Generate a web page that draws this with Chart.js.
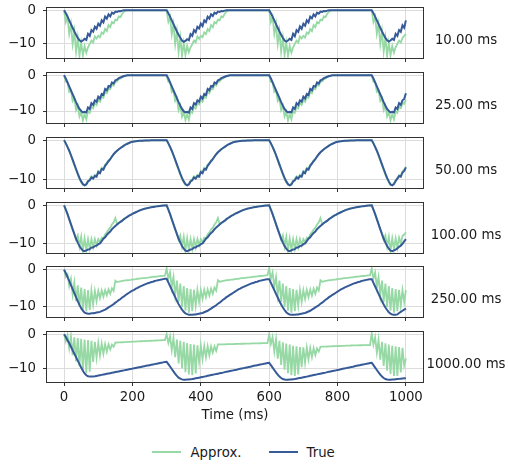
<!DOCTYPE html>
<html><head><meta charset="utf-8">
<script src="https://cdn.jsdelivr.net/npm/chart.js@4.4.1/dist/chart.umd.min.js"></script>
<style>
html,body{margin:0;padding:0;background:#fff;}
body{width:508px;height:467px;position:relative;overflow:hidden;font-family:"DejaVu Sans",sans-serif;}
canvas{position:absolute;left:0;}
.t{position:absolute;font-size:13.3px;line-height:15px;color:#1a1a1a;white-space:nowrap;}
.c{transform:translate(-50%,-50%);}
.l{transform:translateY(-50%);}
.sw{position:absolute;height:2px;width:29px;}
</style></head><body>
<script>
const time = [
0,5,10,15,20,25,30,35,40,45,50,55,60,65,70,75,80,85,90,95,
100,105,110,115,120,125,130,135,140,145,150,155,160,165,170,175,180,185,190,195,
200,205,210,215,220,225,230,235,240,245,250,255,260,265,270,275,280,285,290,295,
300,305,310,315,320,325,330,335,340,345,350,355,360,365,370,375,380,385,390,395,
400,405,410,415,420,425,430,435,440,445,450,455,460,465,470,475,480,485,490,495,
500,505,510,515,520,525,530,535,540,545,550,555,560,565,570,575,580,585,590,595,
600,605,610,615,620,625,630,635,640,645,650,655,660,665,670,675,680,685,690,695,
700,705,710,715,720,725,730,735,740,745,750,755,760,765,770,775,780,785,790,795,
800,805,810,815,820,825,830,835,840,845,850,855,860,865,870,875,880,885,890,895,
900,905,910,915,920,925,930,935,940,945,950,955,960,965,970,975,980,985,990,995,
1000];

const approx10 = [
0,-3.5,-1.9,-7.0,-4.1,-10.0,-6.3,-12.3,-8.2,-13.5,
-9.6,-13.4,-10.6,-12.6,-11.0,-10.0,-9.0,-9.6,-7.8,-8.4,
-7.6,-8.0,-6.6,-7.0,-5.6,-6.2,-4.4,-5.0,-3.5,-3.9,
-2.8,-3.0,-1.8,-2.0,-1.0,-0.4,-0.1,0,0,0,
0,0,0,0,0,0,0,0,0,0,
0,0,0,0,0,0,0,0,0,0,
0,-3.4,-1.9,-7.1,-4.1,-10.1,-6.3,-12.4,-8.2,-13.5,
-9.7,-13.3,-10.6,-12.5,-11.0,-10.1,-9.0,-9.5,-7.8,-8.5,
-7.6,-8.0,-6.6,-7.1,-5.6,-6.2,-4.4,-5.0,-3.5,-3.9,
-2.8,-3.0,-1.8,-2.0,-1.0,-0.4,-0.1,0,0,0,
0,0,0,0,0,0,0,0,0,0,
0,0,0,0,0,0,0,0,0,0,
0,-3.5,-1.9,-7.0,-4.1,-10.0,-6.3,-12.3,-8.2,-13.4,
-9.6,-13.5,-10.6,-12.6,-11.0,-10.0,-9.0,-9.6,-7.8,-8.4,
-7.6,-8.1,-6.6,-7.0,-5.6,-6.2,-4.4,-5.0,-3.5,-3.9,
-2.8,-3.0,-1.8,-2.0,-1.0,-0.4,-0.1,0,0,0,
0,0,0,0,0,0,0,0,0,0,
0,0,0,0,0,0,0,0,0,0,
0,-3.5,-1.9,-7.0,-4.1,-10.0,-6.3,-12.3,-8.2,-13.5,
-9.6,-13.4,-10.6,-12.6,-11.0,-10.0,-9.0,-9.6,-8.2,-7.6,
-7.0];

const true10 = [
0,-0.9,-1.9,-3.0,-4.1,-5.2,-6.3,-7.3,-8.2,-8.9,
-9.3,-9.0,-8.5,-8.8,-7.0,-7.6,-5.9,-6.4,-4.9,-5.5,
-4.0,-4.6,-3.0,-3.6,-1.9,-2.5,-1.2,-1.8,-0.7,-1.0,
-0.4,-0.5,-0.2,-0.3,-0.1,0,0,0,0,0,
0,0,0,0,0,0,0,0,0,0,
0,0,0,0,0,0,0,0,0,0,
0,-0.9,-1.9,-3.0,-4.1,-5.2,-6.3,-7.3,-8.2,-9.0,
-9.4,-9.1,-8.6,-8.9,-7.1,-7.6,-5.9,-6.5,-4.9,-5.4,
-4.0,-4.7,-3.0,-3.5,-1.9,-2.5,-1.2,-1.7,-0.7,-1.0,
-0.4,-0.5,-0.2,-0.3,-0.1,0,0,0,0,0,
0,0,0,0,0,0,0,0,0,0,
0,0,0,0,0,0,0,0,0,0,
0,-0.9,-1.9,-3.0,-4.1,-5.2,-6.3,-7.3,-8.2,-9.0,
-9.3,-9.0,-8.5,-8.8,-7.0,-7.7,-5.9,-6.4,-4.8,-5.5,
-4.0,-4.6,-3.0,-3.6,-1.9,-2.4,-1.2,-1.8,-0.7,-1.0,
-0.4,-0.5,-0.2,-0.3,-0.1,0,0,0,0,0,
0,0,0,0,0,0,0,0,0,0,
0,0,0,0,0,0,0,0,0,0,
0,-0.9,-1.9,-3.0,-4.1,-5.2,-6.3,-7.3,-8.2,-8.9,
-9.3,-9.0,-8.5,-8.8,-7.0,-7.6,-5.9,-6.4,-4.5,-5.2,
-3.0];

const approx25 = [
0,-1.8,-2.0,-4.6,-4.2,-7.2,-6.4,-9.7,-8.5,-11.5,
-10.2,-12.6,-10.8,-12.3,-10.0,-10.5,-8.8,-9.2,-7.8,-8.3,
-6.9,-7.4,-6.0,-6.3,-4.6,-5.0,-3.7,-3.9,-2.6,-2.9,
-1.8,-1.7,-1.1,-0.9,-0.5,-0.3,-0.1,0,0,0,
0,0,0,0,0,0,0,0,0,0,
0,0,0,0,0,0,0,0,0,0,
0,-1.8,-2.0,-4.7,-4.2,-7.2,-6.4,-9.8,-8.5,-11.6,
-10.2,-12.5,-10.8,-12.4,-10.0,-10.5,-8.8,-9.3,-7.8,-8.2,
-6.9,-7.4,-6.0,-6.3,-4.6,-5.0,-3.7,-3.9,-2.6,-2.9,
-1.8,-1.7,-1.1,-0.9,-0.5,-0.3,-0.1,0,0,0,
0,0,0,0,0,0,0,0,0,0,
0,0,0,0,0,0,0,0,0,0,
0,-1.8,-2.0,-4.6,-4.2,-7.2,-6.4,-9.7,-8.5,-11.5,
-10.2,-12.6,-10.8,-12.3,-10.0,-10.5,-8.8,-9.2,-7.8,-8.3,
-6.9,-7.4,-6.0,-6.3,-4.6,-5.0,-3.7,-3.9,-2.6,-2.9,
-1.8,-1.7,-1.1,-0.9,-0.5,-0.3,-0.1,0,0,0,
0,0,0,0,0,0,0,0,0,0,
0,0,0,0,0,0,0,0,0,0,
0,-1.8,-2.0,-4.6,-4.2,-7.2,-6.4,-9.7,-8.5,-11.5,
-10.2,-12.6,-10.8,-12.3,-10.0,-10.5,-8.8,-9.2,-7.8,-8.0,
-6.8];

const true25 = [
0,-0.9,-2.0,-3.1,-4.2,-5.3,-6.4,-7.5,-8.5,-9.4,
-10.0,-10.4,-10.2,-10.4,-9.0,-9.4,-7.8,-8.3,-7.0,-7.4,
-6.0,-6.5,-5.2,-5.5,-3.8,-4.2,-3.0,-3.2,-2.0,-2.3,
-1.4,-1.2,-0.8,-0.6,-0.4,-0.2,-0.1,0,0,0,
0,0,0,0,0,0,0,0,0,0,
0,0,0,0,0,0,0,0,0,0,
0,-0.9,-2.0,-3.1,-4.2,-5.3,-6.4,-7.5,-8.5,-9.4,
-10.1,-10.4,-10.2,-10.5,-9.0,-9.4,-7.8,-8.2,-7.0,-7.4,
-6.0,-6.5,-5.2,-5.5,-3.8,-4.2,-3.0,-3.2,-2.0,-2.3,
-1.4,-1.2,-0.8,-0.6,-0.4,-0.2,-0.1,0,0,0,
0,0,0,0,0,0,0,0,0,0,
0,0,0,0,0,0,0,0,0,0,
0,-0.9,-2.0,-3.1,-4.2,-5.3,-6.4,-7.5,-8.5,-9.4,
-10.0,-10.4,-10.2,-10.4,-9.0,-9.4,-7.8,-8.3,-7.0,-7.4,
-6.0,-6.5,-5.2,-5.5,-3.8,-4.2,-3.0,-3.2,-2.0,-2.3,
-1.4,-1.2,-0.8,-0.6,-0.4,-0.2,-0.1,0,0,0,
0,0,0,0,0,0,0,0,0,0,
0,0,0,0,0,0,0,0,0,0,
0,-0.9,-2.0,-3.1,-4.2,-5.3,-6.4,-7.5,-8.5,-9.4,
-10.0,-10.4,-10.2,-10.4,-9.0,-9.4,-7.8,-8.3,-7.0,-6.6,
-5.0];

const approx50 = [
0,-0.8,-1.8,-2.8,-4.0,-5.2,-6.5,-7.7,-8.9,-10.0,
-10.8,-11.5,-11.6,-11.2,-10.4,-10.0,-9.3,-9.6,-8.9,-9.1,
-7.9,-8.2,-7.1,-7.3,-6.3,-5.8,-5.2,-4.8,-4.1,-3.6,
-3.1,-2.7,-2.3,-2.0,-1.7,-1.4,-1.1,-0.9,-0.7,-0.5,
-0.4,-0.3,-0.25,-0.2,-0.15,-0.12,-0.1,-0.08,-0.06,-0.05,
-0.04,-0.03,-0.03,-0.02,-0.02,-0.01,-0.01,-0.01,0,0,
0,-0.8,-1.8,-2.8,-4.0,-5.2,-6.5,-7.7,-8.9,-10.0,
-10.8,-11.5,-11.6,-11.2,-10.4,-10.0,-9.3,-9.6,-8.9,-9.1,
-7.9,-8.2,-7.1,-7.3,-6.3,-5.8,-5.2,-4.8,-4.1,-3.6,
-3.1,-2.7,-2.3,-2.0,-1.7,-1.4,-1.1,-0.9,-0.7,-0.5,
-0.4,-0.3,-0.25,-0.2,-0.15,-0.12,-0.1,-0.08,-0.06,-0.05,
-0.04,-0.03,-0.03,-0.02,-0.02,-0.01,-0.01,-0.01,0,0,
0,-0.8,-1.8,-2.8,-4.0,-5.2,-6.5,-7.7,-8.9,-10.0,
-10.8,-11.5,-11.6,-11.2,-10.4,-10.0,-9.3,-9.6,-8.9,-9.1,
-7.9,-8.2,-7.1,-7.3,-6.3,-5.8,-5.2,-4.8,-4.1,-3.6,
-3.1,-2.7,-2.3,-2.0,-1.7,-1.4,-1.1,-0.9,-0.7,-0.5,
-0.4,-0.3,-0.25,-0.2,-0.15,-0.12,-0.1,-0.08,-0.06,-0.05,
-0.04,-0.03,-0.03,-0.02,-0.02,-0.01,-0.01,-0.01,0,0,
0,-0.8,-1.8,-2.8,-4.0,-5.2,-6.5,-7.7,-8.9,-10.0,
-10.8,-11.5,-11.6,-11.1,-10.3,-9.7,-9.0,-9.2,-8.0,-7.6,
-6.8];

const true50 = [
0,-0.8,-1.7,-2.7,-3.8,-5.0,-6.2,-7.4,-8.6,-9.7,
-10.6,-11.3,-11.6,-11.4,-10.6,-10.3,-9.6,-9.9,-9.2,-9.4,
-8.2,-8.5,-7.4,-7.6,-6.6,-6.0,-5.4,-4.9,-4.2,-3.6,
-3.1,-2.7,-2.3,-2.0,-1.7,-1.4,-1.1,-0.9,-0.7,-0.5,
-0.4,-0.3,-0.25,-0.2,-0.15,-0.12,-0.1,-0.08,-0.06,-0.05,
-0.04,-0.03,-0.03,-0.02,-0.02,-0.01,-0.01,-0.01,0,0,
0,-0.8,-1.7,-2.7,-3.8,-5.0,-6.2,-7.4,-8.6,-9.7,
-10.6,-11.3,-11.6,-11.4,-10.6,-10.3,-9.6,-9.9,-9.2,-9.4,
-8.2,-8.5,-7.4,-7.6,-6.6,-6.0,-5.4,-4.9,-4.2,-3.6,
-3.1,-2.7,-2.3,-2.0,-1.7,-1.4,-1.1,-0.9,-0.7,-0.5,
-0.4,-0.3,-0.25,-0.2,-0.15,-0.12,-0.1,-0.08,-0.06,-0.05,
-0.04,-0.03,-0.03,-0.02,-0.02,-0.01,-0.01,-0.01,0,0,
0,-0.8,-1.7,-2.7,-3.8,-5.0,-6.2,-7.4,-8.6,-9.7,
-10.6,-11.3,-11.6,-11.4,-10.6,-10.3,-9.6,-9.9,-9.2,-9.4,
-8.2,-8.5,-7.4,-7.6,-6.6,-6.0,-5.4,-4.9,-4.2,-3.6,
-3.1,-2.7,-2.3,-2.0,-1.7,-1.4,-1.1,-0.9,-0.7,-0.5,
-0.4,-0.3,-0.25,-0.2,-0.15,-0.12,-0.1,-0.08,-0.06,-0.05,
-0.04,-0.03,-0.03,-0.02,-0.02,-0.01,-0.01,-0.01,0,0,
0,-0.8,-1.7,-2.7,-3.8,-5.0,-6.2,-7.4,-8.6,-9.7,
-10.6,-11.4,-11.6,-11.3,-10.5,-9.9,-9.2,-9.4,-8.3,-7.9,
-7.0];

const approx100 = [
0,-1.1,-2.3,-3.7,-5.0,-6.4,-7.2,-8.9,-7.8,-10.7,
-8.2,-11.8,-8.6,-11.6,-8.8,-11.3,-8.8,-10.9,-8.8,-10.4,
-8.8,-9.6,-8.4,-8.6,-7.6,-7.0,-6.3,-5.8,-5.0,-4.4,
-3.3,-4.9,-4.6,-4.3,-4.0,-3.6,-3.3,-3.0,-2.7,-2.5,
-2.2,-2.0,-1.8,-1.6,-1.4,-1.2,-1.05,-0.9,-0.8,-0.7,
-0.6,-0.5,-0.42,-0.35,-0.28,-0.22,-0.16,-0.12,-0.08,-0.04,
0,-1.1,-2.3,-3.7,-5.0,-6.4,-7.2,-8.9,-7.8,-10.7,
-8.2,-11.8,-8.6,-11.6,-8.8,-11.3,-8.8,-10.9,-8.8,-10.4,
-8.8,-9.6,-8.4,-8.6,-7.6,-7.0,-6.3,-5.8,-5.0,-4.4,
-3.3,-4.9,-4.6,-4.3,-4.0,-3.6,-3.3,-3.0,-2.7,-2.5,
-2.2,-2.0,-1.8,-1.6,-1.4,-1.2,-1.05,-0.9,-0.8,-0.7,
-0.6,-0.5,-0.42,-0.35,-0.28,-0.22,-0.16,-0.12,-0.08,-0.04,
0,-1.1,-2.3,-3.7,-5.0,-6.4,-7.2,-8.9,-7.8,-10.7,
-8.2,-11.8,-8.6,-11.6,-8.8,-11.3,-8.8,-10.9,-8.8,-10.4,
-8.8,-9.6,-8.4,-8.6,-7.6,-7.0,-6.3,-5.8,-5.0,-4.4,
-3.3,-4.9,-4.6,-4.3,-4.0,-3.6,-3.3,-3.0,-2.7,-2.5,
-2.2,-2.0,-1.8,-1.6,-1.4,-1.2,-1.05,-0.9,-0.8,-0.7,
-0.6,-0.5,-0.42,-0.35,-0.28,-0.22,-0.16,-0.12,-0.08,-0.04,
0,-1.1,-2.3,-3.7,-5.0,-6.4,-7.2,-8.9,-7.8,-10.7,
-8.2,-11.8,-8.6,-11.4,-8.6,-11.0,-8.4,-10.0,-8.0,-7.6,
-7.0];

const true100 = [
0,-1.1,-2.3,-3.6,-4.9,-6.2,-7.5,-8.7,-9.7,-10.6,
-11.3,-11.8,-11.9,-11.7,-11.5,-11.4,-11.0,-11.0,-10.6,-10.5,
-10.1,-9.9,-9.3,-8.7,-8.3,-7.7,-7.2,-6.8,-6.2,-5.8,
-5.4,-5.0,-4.6,-4.3,-4.0,-3.6,-3.3,-3.0,-2.7,-2.5,
-2.2,-2.0,-1.8,-1.6,-1.4,-1.2,-1.05,-0.9,-0.8,-0.7,
-0.6,-0.5,-0.42,-0.35,-0.28,-0.22,-0.16,-0.12,-0.08,-0.04,
0,-1.1,-2.3,-3.6,-4.9,-6.2,-7.5,-8.7,-9.7,-10.6,
-11.3,-11.8,-11.9,-11.7,-11.5,-11.4,-11.0,-11.0,-10.6,-10.5,
-10.1,-9.9,-9.3,-8.7,-8.3,-7.7,-7.2,-6.8,-6.2,-5.8,
-5.4,-5.0,-4.6,-4.3,-4.0,-3.6,-3.3,-3.0,-2.7,-2.5,
-2.2,-2.0,-1.8,-1.6,-1.4,-1.2,-1.05,-0.9,-0.8,-0.7,
-0.6,-0.5,-0.42,-0.35,-0.28,-0.22,-0.16,-0.12,-0.08,-0.04,
0,-1.1,-2.3,-3.6,-4.9,-6.2,-7.5,-8.7,-9.7,-10.6,
-11.3,-11.8,-11.9,-11.7,-11.5,-11.4,-11.0,-11.0,-10.6,-10.5,
-10.1,-9.9,-9.3,-8.7,-8.3,-7.7,-7.2,-6.8,-6.2,-5.8,
-5.4,-5.0,-4.6,-4.3,-4.0,-3.6,-3.3,-3.0,-2.7,-2.5,
-2.2,-2.0,-1.8,-1.6,-1.4,-1.2,-1.05,-0.9,-0.8,-0.7,
-0.6,-0.5,-0.42,-0.35,-0.28,-0.22,-0.16,-0.12,-0.08,-0.04,
0,-1.1,-2.3,-3.6,-4.9,-6.2,-7.5,-8.7,-9.7,-10.6,
-11.3,-11.8,-11.9,-11.7,-11.5,-11.2,-10.8,-10.5,-10.0,-9.4,
-8.8];

const approx250 = [
0,-2.0,-1.3,-4.5,-2.5,-6.8,-3.5,-8.6,-4.3,-10.0,
-4.9,-11.0,-5.3,-11.4,-5.6,-11.0,-5.7,-9.5,-5.8,-8.6,
-5.8,-7.8,-5.7,-7.4,-5.6,-7.0,-5.4,-6.6,-5.1,-5.8,
-3.0,-3.4,-3.3,-3.2,-3.1,-3.0,-2.95,-2.9,-2.85,-2.8,
-2.7,-2.65,-2.6,-2.5,-2.45,-2.4,-2.35,-2.3,-2.25,-2.2,
-2.1,-2.05,-2.0,-1.95,-1.9,-1.85,-1.8,-1.75,-1.7,-1.65,
0.3,-2.5,-0.8,-4.8,-2.0,-7.0,-3.0,-8.8,-3.8,-10.2,
-4.5,-11.2,-5.0,-11.7,-5.3,-11.3,-5.5,-9.8,-5.6,-8.8,
-5.6,-8.0,-5.5,-7.5,-5.4,-7.1,-5.2,-6.6,-4.9,-5.7,
-2.9,-3.3,-3.2,-3.1,-3.0,-2.9,-2.85,-2.8,-2.75,-2.7,
-2.6,-2.55,-2.5,-2.4,-2.35,-2.3,-2.25,-2.2,-2.15,-2.1,
-2.0,-1.95,-1.9,-1.85,-1.8,-1.75,-1.7,-1.65,-1.6,-1.55,
0.3,-2.5,-0.8,-4.8,-2.0,-7.0,-3.0,-8.8,-3.8,-10.2,
-4.5,-11.2,-5.0,-11.7,-5.3,-11.3,-5.5,-9.8,-5.6,-8.8,
-5.6,-8.0,-5.5,-7.5,-5.4,-7.1,-5.2,-6.6,-4.9,-5.7,
-2.9,-3.3,-3.2,-3.1,-3.0,-2.9,-2.85,-2.8,-2.75,-2.7,
-2.6,-2.55,-2.5,-2.4,-2.35,-2.3,-2.25,-2.2,-2.15,-2.1,
-2.0,-1.95,-1.9,-1.85,-1.8,-1.75,-1.7,-1.65,-1.6,-1.55,
0.3,-2.5,-0.8,-4.8,-2.0,-7.0,-3.0,-8.8,-3.8,-10.2,
-4.5,-11.2,-5.0,-11.7,-5.3,-11.3,-5.5,-9.8,-5.6,-8.8,
-5.6];

const true250 = [
0,-1.0,-2.0,-3.1,-4.2,-5.3,-6.4,-7.5,-8.6,-9.6,
-10.5,-11.2,-11.7,-11.9,-12.0,-12.0,-11.9,-11.9,-11.8,-11.7,
-11.6,-11.5,-11.3,-11.1,-10.9,-10.6,-10.3,-10.0,-9.7,-9.4,
-9.0,-8.7,-8.3,-8.0,-7.6,-7.3,-6.9,-6.6,-6.3,-6.0,
-5.7,-5.5,-5.2,-5.0,-4.7,-4.5,-4.3,-4.1,-3.9,-3.7,
-3.6,-3.4,-3.3,-3.1,-3.0,-2.9,-2.8,-2.7,-2.6,-2.5,
-2.5,-3.5,-4.5,-5.5,-6.5,-7.5,-8.5,-9.4,-10.2,-10.9,
-11.5,-11.9,-12.1,-12.3,-12.3,-12.3,-12.2,-12.2,-12.1,-12.0,
-11.9,-11.8,-11.6,-11.4,-11.2,-10.9,-10.6,-10.3,-10.0,-9.7,
-9.3,-9.0,-8.6,-8.2,-7.9,-7.5,-7.2,-6.9,-6.6,-6.3,
-6.0,-5.7,-5.4,-5.2,-4.9,-4.7,-4.5,-4.3,-4.1,-3.9,
-3.7,-3.6,-3.4,-3.3,-3.1,-3.0,-2.9,-2.8,-2.7,-2.6,
-2.6,-3.6,-4.6,-5.6,-6.6,-7.6,-8.6,-9.5,-10.3,-11.0,
-11.6,-12.0,-12.2,-12.3,-12.3,-12.3,-12.2,-12.2,-12.1,-12.0,
-11.9,-11.8,-11.6,-11.4,-11.2,-10.9,-10.6,-10.3,-10.0,-9.7,
-9.3,-9.0,-8.6,-8.2,-7.9,-7.5,-7.2,-6.9,-6.6,-6.3,
-6.0,-5.7,-5.4,-5.2,-4.9,-4.7,-4.5,-4.3,-4.1,-3.9,
-3.7,-3.6,-3.4,-3.3,-3.1,-3.0,-2.9,-2.8,-2.7,-2.6,
-2.6,-3.6,-4.6,-5.6,-6.6,-7.6,-8.6,-9.5,-10.3,-11.0,
-11.6,-12.0,-12.2,-12.3,-12.3,-12.2,-11.8,-11.5,-11.2,-10.9,
-10.6];

const approx1000 = [
0,-2.0,-0.3,-4.0,-0.6,-6.0,-0.9,-7.8,-1.1,-9.3,
-1.3,-10.5,-1.5,-11.2,-1.7,-10.8,-1.9,-8.0,-2.2,-6.8,
-2.5,-6.1,-2.7,-5.6,-2.8,-5.0,-2.9,-4.4,-3.0,-3.6,
-2.4,-2.38,-2.35,-2.33,-2.3,-2.27,-2.25,-2.22,-2.2,-2.17,
-2.15,-2.12,-2.1,-2.07,-2.05,-2.02,-2.0,-1.97,-1.95,-1.92,
-1.9,-1.87,-1.85,-1.82,-1.8,-1.77,-1.75,-1.72,-1.7,-1.67,
0.0,-2.5,-0.6,-4.6,-1.1,-6.6,-1.5,-8.4,-1.9,-9.8,
-2.2,-10.9,-2.5,-11.6,-2.8,-11.8,-3.0,-11.3,-3.2,-8.0,
-3.3,-7.2,-3.4,-6.6,-3.45,-6.1,-3.5,-5.3,-3.5,-4.8,
-2.95,-2.94,-2.92,-2.91,-2.89,-2.88,-2.86,-2.85,-2.83,-2.82,
-2.8,-2.79,-2.77,-2.76,-2.74,-2.73,-2.71,-2.7,-2.68,-2.67,
-2.65,-2.64,-2.62,-2.61,-2.6,-2.59,-2.58,-2.57,-2.56,-2.55,
0.0,-2.8,-0.8,-5.0,-1.4,-7.0,-1.9,-8.8,-2.3,-10.2,
-2.7,-11.2,-3.0,-11.8,-3.3,-12.0,-3.5,-11.6,-3.7,-9.5,
-3.8,-8.2,-3.9,-7.2,-4.0,-6.6,-4.0,-6.0,-4.1,-5.0,
-3.6,-3.58,-3.56,-3.54,-3.52,-3.5,-3.48,-3.46,-3.44,-3.42,
-3.4,-3.38,-3.36,-3.34,-3.32,-3.3,-3.28,-3.26,-3.24,-3.22,
-3.2,-3.19,-3.18,-3.17,-3.16,-3.15,-3.14,-3.13,-3.12,-3.1,
0.2,-3.0,-0.9,-5.3,-1.6,-7.3,-2.2,-9.1,-2.6,-10.5,
-3.0,-11.4,-3.3,-12.0,-3.5,-12.0,-3.7,-11.0,-3.9,-9.0,
-7.0];

const true1000 = [
0,-0.8,-1.7,-2.6,-3.6,-4.6,-5.6,-6.6,-7.6,-8.6,
-9.6,-10.5,-11.3,-11.8,-12.1,-12.2,-12.2,-12.15,-12.1,-12.0,
-11.9,-11.8,-11.7,-11.6,-11.5,-11.4,-11.3,-11.2,-11.1,-11.0,
-10.9,-10.8,-10.7,-10.6,-10.5,-10.4,-10.3,-10.2,-10.1,-10.0,
-9.9,-9.8,-9.7,-9.6,-9.5,-9.4,-9.3,-9.2,-9.1,-9.0,
-8.9,-8.8,-8.7,-8.6,-8.5,-8.4,-8.3,-8.2,-8.1,-8.0,
-7.95,-8.6,-9.3,-10.0,-10.7,-11.4,-12.0,-12.5,-12.8,-13.0,
-13.1,-13.1,-13.05,-13.0,-12.95,-12.9,-12.8,-12.7,-12.6,-12.5,
-12.4,-12.3,-12.2,-12.1,-11.95,-11.85,-11.75,-11.65,-11.55,-11.45,
-11.35,-11.25,-11.15,-11.05,-10.9,-10.8,-10.7,-10.6,-10.5,-10.4,
-10.3,-10.2,-10.05,-9.95,-9.85,-9.75,-9.65,-9.55,-9.45,-9.35,
-9.2,-9.1,-9.0,-8.9,-8.8,-8.7,-8.6,-8.5,-8.4,-8.3,
-8.25,-8.9,-9.6,-10.3,-11.0,-11.6,-12.2,-12.6,-12.9,-13.05,
-13.1,-13.1,-13.05,-13.0,-12.95,-12.9,-12.8,-12.7,-12.6,-12.5,
-12.4,-12.3,-12.2,-12.1,-11.95,-11.85,-11.75,-11.65,-11.55,-11.45,
-11.35,-11.25,-11.15,-11.05,-10.9,-10.8,-10.7,-10.6,-10.5,-10.4,
-10.3,-10.2,-10.05,-9.95,-9.85,-9.75,-9.65,-9.55,-9.45,-9.35,
-9.2,-9.1,-9.0,-8.9,-8.8,-8.7,-8.6,-8.5,-8.4,-8.3,
-8.25,-8.9,-9.6,-10.3,-11.0,-11.6,-12.2,-12.6,-12.9,-13.05,
-13.1,-13.1,-13.05,-13.0,-12.95,-12.9,-12.85,-12.8,-12.75,-12.7,
-12.65];

const panelLabels = ['10.00 ms', '25.00 ms', '50.00 ms', '100.00 ms', '250.00 ms', '1000.00 ms'];
const xTicks = [0, 200, 400, 600, 800, 1000];
const yTicks = [-10, 0];
const approxSeries = [approx10, approx25, approx50, approx100, approx250, approx1000];
const trueSeries = [true10, true25, true50, true100, true250, true1000];
const yLimits = [[-14.2, 0.68], [-13.35, 0.65], [-12.3, 0.58], [-12.4, 0.6], [-12.9, 0.7], [-13.75, 0.65]];

[...approxSeries, ...trueSeries].forEach((a, k) => {
  if (a.length !== time.length) throw new Error('series ' + k + ' has ' + a.length + ' values');
});

const GREEN = '#96d9a4';
const BLUE = '#365a98';
const FONT = {family: '"DejaVu Sans", sans-serif', size: 13.3};
const TEXT = '#1a1a1a';
const panelTops = [8, 73, 138, 203, 267, 332];
const PANEL_H = 50;
const PAD_TOP = 8;

const framePlugin = {
  id: 'frame',
  afterDatasetsDraw(chart) {
    const {ctx, chartArea: a} = chart;
    ctx.save();
    ctx.strokeStyle = '#333';
    ctx.lineWidth = 1;
    ctx.strokeRect(a.left - 0.5, a.top - 0.5, a.right - a.left + 1, a.bottom - a.top + 1);
    ctx.restore();
  }
};

const toPoints = vals => time.map((t, k) => ({x: t, y: vals[k]}));

panelLabels.forEach((lab, i) => {
  const last = i === panelLabels.length - 1;
  const xH = last ? 42 : 6;
  const h = PAD_TOP + PANEL_H + xH;
  const cv = document.createElement('canvas');
  cv.width = 508; cv.height = h;
  cv.style.width = '508px'; cv.style.height = h + 'px';
  cv.style.top = (panelTops[i] - PAD_TOP) + 'px';
  document.body.appendChild(cv);

  const gridOpts = {color: '#dcdcdc', lineWidth: 1, tickColor: '#333', tickLength: 4, tickWidth: 1};

  new Chart(cv, {
    type: 'line',
    data: {
      datasets: [
        {label: 'Approx.', data: toPoints(approxSeries[i]), borderColor: GREEN, borderWidth: 1.8,
         pointRadius: 0, tension: 0, order: 2},
        {label: 'True', data: toPoints(trueSeries[i]), borderColor: BLUE, borderWidth: 2,
         pointRadius: 0, tension: 0, order: 1}
      ]
    },
    options: {
      responsive: false,
      animation: false,
      devicePixelRatio: 1,
      events: [],
      layout: {padding: {top: PAD_TOP, right: 85, left: 0, bottom: 0}},
      plugins: {legend: {display: false}, tooltip: {enabled: false}},
      scales: {
        x: {
          type: 'linear', min: -50, max: 1050,
          afterBuildTicks: s => { s.ticks = xTicks.map(v => ({value: v})); },
          afterFit: s => { s.height = xH; s.paddingLeft = 0; s.paddingRight = 0; },
          ticks: {display: last, autoSkip: false, maxRotation: 0, font: FONT, color: TEXT, padding: 4,
                  callback: v => String(v)},
          grid: gridOpts,
          border: {display: false},
          title: {display: last, text: 'Time (ms)', font: FONT, color: TEXT, padding: 0}
        },
        y: {
          min: yLimits[i][0], max: yLimits[i][1],
          afterBuildTicks: s => { s.ticks = yTicks.map(v => ({value: v})); },
          afterFit: s => { s.width = 47; s.paddingTop = 0; s.paddingBottom = 0; },
          ticks: {font: FONT, color: TEXT, padding: 7,
                  callback: v => v < 0 ? '\u2212' + Math.abs(v) : String(v)},
          grid: gridOpts,
          border: {display: false}
        }
      }
    },
    plugins: [framePlugin]
  });

  const d = document.createElement('div');
  d.className = 't c';
  d.style.left = '466px';
  d.style.top = (panelTops[i] + PANEL_H / 2 + 6) + 'px';
  d.textContent = lab;
  document.body.appendChild(d);
});

const legendItems = [['Approx.', GREEN, 152, 190.5], ['True', BLUE, 269, 306.5]];
legendItems.forEach(([name, col, lx, tx]) => {
  const sw = document.createElement('div');
  sw.className = 'sw';
  sw.style.left = lx + 'px'; sw.style.top = '451px'; sw.style.background = col;
  document.body.appendChild(sw);
  const t = document.createElement('div');
  t.className = 't l';
  t.style.left = tx + 'px'; t.style.top = '452.3px';
  t.textContent = name;
  document.body.appendChild(t);
});
</script>
</body></html>
